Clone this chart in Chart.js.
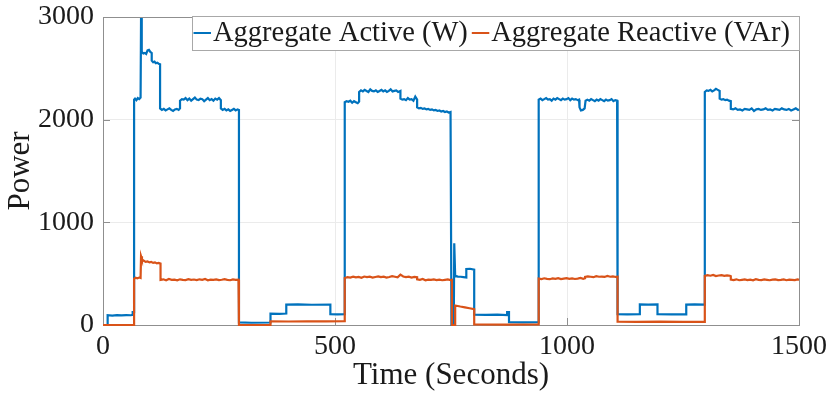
<!DOCTYPE html>
<html><head><meta charset="utf-8">
<script src="https://cdn.jsdelivr.net/npm/chart.js@4.4.0/dist/chart.umd.min.js"></script>
<style>html,body{margin:0;padding:0;background:#fff}#wrap{width:830px;height:394px}</style>
</head><body><div id="wrap"><canvas id="c" width="830" height="394"></canvas></div>
<script>
const seriesLabels = ['Aggregate Active (W)', 'Aggregate Reactive (VAr)'];
const xTicks = [0, 500, 1000, 1500];
const yTicks = [0, 1000, 2000, 3000];

const activeTime = [
 0, 10, 10, 20, 30, 40, 50, 60, 64, 64, 67,
 67, 69, 72, 75, 78, 81,
 82, 83, 84, 87, 90, 93, 96, 99, 102, 105,
 105, 108, 111, 114, 117, 120, 123,
 123, 127, 131, 135, 139, 143, 147, 151, 155, 159, 163, 166,
 166, 170, 174, 178, 182, 186, 190, 194, 198, 202, 206, 210, 214, 218, 222, 226, 230, 234, 238, 242, 246, 250, 254,
 254, 258, 262, 266, 270, 274, 278, 282, 286, 290, 293,
 293, 320, 361,
 361, 380, 395,
 395, 420, 450, 490,
 490, 505, 521,
 521, 525, 529, 533, 537, 541, 545, 549, 552,
 552, 556, 560, 564, 568, 572, 576, 580, 584, 588, 592, 596, 600, 604, 608, 612, 616, 620, 624, 628, 632, 636, 641,
 641, 645, 649, 653, 657, 661, 665, 669, 673, 677,
 677, 681, 685, 689, 693, 697, 701, 705, 709, 713, 717, 721, 725, 729, 733, 737, 741, 745, 749,
 751, 756, 757, 759, 765, 771, 777, 783,
 783, 791, 800,
 800, 825, 850, 871,
 871, 875,
 875, 905, 939,
 939, 943, 947, 951, 955, 959, 963, 967, 971, 975, 979, 983, 987, 991, 995, 999, 1003, 1007, 1011, 1015, 1019, 1023, 1026,
 1027, 1030, 1034, 1038,
 1040, 1044, 1048, 1052, 1056, 1060, 1064, 1068, 1072, 1076, 1080, 1084, 1088, 1092, 1096, 1100, 1104, 1108, 1109,
 1109, 1130, 1157,
 1157, 1175, 1195,
 1195, 1225, 1257,
 1257, 1275, 1297,
 1297, 1301, 1305, 1309, 1313, 1317, 1321, 1325, 1329,
 1329, 1333, 1337, 1341, 1345, 1349, 1353,
 1353, 1358, 1363, 1368, 1373, 1378, 1383, 1388, 1393, 1398, 1403, 1408, 1413, 1418, 1423, 1428, 1433, 1438, 1443, 1448, 1453, 1458, 1463, 1468, 1473, 1478, 1483, 1488, 1493, 1498, 1500
];
const activePower = [
 0, 0, 95, 92, 96, 94, 97, 95, 98, 125, 125,
 2195, 2205, 2190, 2210, 2200, 2215,
 2990, 2985, 2660, 2645, 2650, 2640, 2675, 2680, 2660, 2650,
 2575, 2560, 2565, 2550, 2555, 2545, 2540,
 2110, 2095, 2105, 2090, 2100, 2110, 2095, 2085, 2100, 2105, 2095, 2110,
 2185, 2200, 2195, 2210, 2190, 2205, 2185, 2200, 2215, 2195, 2190, 2205, 2200, 2180, 2195, 2210, 2190, 2200, 2185, 2205, 2195, 2210, 2190,
 2110, 2095, 2105, 2090, 2100, 2085, 2095, 2105, 2090, 2100, 2095,
 25, 22, 24,
 110, 108, 112,
 198, 200, 197, 199,
 105, 103, 106,
 2170, 2180, 2175, 2185, 2165, 2180, 2170, 2160, 2175,
 2270, 2285, 2275, 2290, 2280, 2270, 2295, 2280, 2275, 2285, 2270, 2280, 2290, 2275, 2285, 2270, 2280, 2295, 2275, 2280, 2285, 2270, 2280,
 2205, 2195, 2200, 2190, 2210, 2195, 2200, 2185, 2225, 2195,
 2120, 2110, 2115, 2105, 2110, 2100, 2105, 2095, 2100, 2090, 2095, 2085, 2090, 2080, 2085, 2075, 2080, 2070, 2075,
 0, 0, 795, 478, 472, 470, 466, 462,
 545, 548, 540,
 100, 98, 101, 97,
 125, 125,
 28, 26, 28,
 2195, 2205, 2190, 2200, 2210, 2195, 2200, 2185, 2205, 2195, 2210, 2200, 2190, 2205, 2195, 2200, 2210, 2190, 2205, 2195, 2200, 2190, 2195,
 2120, 2090, 2095, 2110,
 2185, 2195, 2185, 2200, 2190, 2180, 2195, 2185, 2200, 2190, 2180, 2195, 2185, 2190, 2200, 2180, 2190, 2185, 2190,
 105, 103, 106,
 200, 198, 201,
 105, 103, 104,
 198, 200, 199,
 2270, 2285, 2280, 2290, 2275, 2285, 2300, 2290, 2280,
 2205, 2195, 2200, 2190, 2195, 2185, 2180,
 2105, 2100, 2110, 2095, 2100, 2090, 2105, 2100, 2095, 2110, 2085, 2100, 2105, 2095, 2100, 2110, 2095, 2100, 2090, 2105, 2100, 2095, 2110, 2100, 2095, 2105, 2090, 2100, 2110, 2095, 2100
];

const reactiveTime = [
 0, 67,
 67, 70, 74, 78, 81,
 82, 84, 88, 92, 96, 100, 104, 108, 112, 116, 120, 124,
 124, 130, 136, 142, 148, 154, 160, 166, 172, 178, 184, 190, 196, 202, 208, 214, 220, 226, 232, 238, 244, 250, 256, 262, 268, 274, 280, 286, 292, 293,
 293, 361,
 361, 400, 440, 480, 521,
 521, 527, 533, 539, 545, 551, 557, 563, 569, 575, 581, 587, 593, 599, 605, 611, 617, 623, 629, 635, 641, 647, 653, 659, 665, 671, 677,
 677, 683, 689, 695, 701, 707, 713, 719, 725, 731, 737, 743, 749, 752,
 752, 759,
 759, 770, 780, 790, 800,
 800, 870, 939,
 939, 945, 951, 957, 963, 969, 975, 981, 987, 993, 999, 1005, 1011, 1017, 1023, 1029, 1035, 1039,
 1039, 1045, 1051, 1057, 1063, 1069, 1075, 1081, 1087, 1093, 1099, 1105, 1109,
 1109, 1150, 1200, 1250, 1297,
 1297, 1303, 1309, 1315, 1321, 1327, 1333, 1339, 1345, 1351, 1353,
 1353, 1359, 1365, 1371, 1377, 1383, 1389, 1395, 1401, 1407, 1413, 1419, 1425, 1431, 1437, 1443, 1449, 1455, 1461, 1467, 1473, 1479, 1485, 1491, 1497, 1500
];
const reactivePower = [
 0, 0,
 450, 460, 455, 462, 458,
 670, 640, 625, 615, 620, 610, 615, 605, 610, 600, 605, 598,
 440, 445, 435, 448, 440, 442, 436, 445, 440, 438, 446, 440, 443, 437, 445, 440, 448, 436, 442, 440, 445, 438, 441, 447, 440, 436, 444, 440, 442, 440,
 0, 0,
 35, 34, 36, 35, 37,
 458, 466, 462, 470, 464, 468, 460, 472, 466, 470, 462, 468, 474, 466, 470, 462, 468, 476, 470, 464, 490, 472, 466, 470, 462, 468, 466,
 445, 440, 448, 436, 442, 440, 445, 438, 442, 436, 440, 444, 438, 440,
 0, 0,
 190, 180, 172, 163, 155,
 5, 4, 5,
 452, 448, 455, 450, 446, 454, 450, 457, 448, 452, 456, 450, 454, 448, 452, 458, 450, 455,
 468, 474, 470, 466, 476, 470, 472, 468, 478, 470, 474, 468, 470,
 32, 30, 33, 31, 30,
 478, 485, 480, 488, 476, 482, 486, 478, 484, 480, 476,
 442, 438, 445, 436, 440, 444, 438, 442, 436, 446, 440, 438, 444, 440, 436, 442, 445, 438, 440, 444, 436, 442, 440, 438, 444, 440
];

function toPoints(ts, vs) {
  const n = Math.min(ts.length, vs.length);
  const out = [];
  for (let i = 0; i < n; i++) out.push({x: ts[i], y: vs[i]});
  return out;
}

const FONT = 'Liberation Serif';
const AXIS_COLOR = '#8f8f8f';
const TEXT_COLOR = '#1a1a1a';

const framePlugin = {
  id: 'framePlugin',
  beforeDatasetsDraw(chart) {
    const {ctx, chartArea: a, scales: {x, y}} = chart;
    ctx.save();
    ctx.strokeStyle = AXIS_COLOR;
    ctx.lineWidth = 1;
    ctx.beginPath();
    xTicks.forEach(v => {
      const px = Math.round(x.getPixelForValue(v)) + 0.5;
      ctx.moveTo(px, a.bottom); ctx.lineTo(px, a.bottom - 7);
      ctx.moveTo(px, a.top); ctx.lineTo(px, a.top + 7);
    });
    yTicks.forEach(v => {
      const py = Math.round(y.getPixelForValue(v)) + 0.5;
      ctx.moveTo(a.left, py); ctx.lineTo(a.left + 7, py);
      ctx.moveTo(a.right, py); ctx.lineTo(a.right - 7, py);
    });
    ctx.stroke();
    ctx.strokeRect(Math.round(a.left) + 0.5, Math.round(a.top) + 0.5,
                   Math.round(a.right - a.left), Math.round(a.bottom - a.top));
    ctx.restore();
  }
};

const legendPlugin = {
  id: 'legendPlugin',
  afterDatasetsDraw(chart) {
    const {ctx, chartArea: a} = chart;
    ctx.save();
    ctx.font = '28.5px "' + FONT + '"';
    const x0 = 192.5, y0 = 16.5, x1 = Math.round(a.right) + 0.5, y1 = 50.5;
    ctx.fillStyle = '#ffffff';
    ctx.fillRect(x0, y0, x1 - x0, y1 - y0);
    ctx.strokeStyle = '#a8a8a8';
    ctx.lineWidth = 1;
    ctx.strokeRect(x0, y0, x1 - x0, y1 - y0);
    let cx = 193.5;
    const cy = 33;
    chart.data.datasets.forEach(ds => {
      ctx.strokeStyle = ds.borderColor;
      ctx.lineWidth = 2;
      ctx.beginPath(); ctx.moveTo(cx, cy); ctx.lineTo(cx + 17.5, cy); ctx.stroke();
      cx += 19.5;
      ctx.fillStyle = TEXT_COLOR;
      ctx.textBaseline = 'middle';
      ctx.textAlign = 'left';
      ctx.fillText(ds.label, cx, cy + 1);
      cx += ctx.measureText(ds.label).width + 4;
    });
    ctx.restore();
  }
};

function zeroPad(s) {
  s.paddingTop = 0; s.paddingBottom = 0; s.paddingLeft = 0; s.paddingRight = 0;
}

new Chart(document.getElementById('c'), {
  type: 'line',
  data: {
    datasets: [
      {label: seriesLabels[0], data: toPoints(activeTime, activePower), borderColor: '#0072BD',
       borderWidth: 2.2, pointRadius: 0, tension: 0, fill: false, order: 1, clip: 3},
      {label: seriesLabels[1], data: toPoints(reactiveTime, reactivePower), borderColor: '#D95319',
       borderWidth: 2.2, pointRadius: 0, tension: 0, fill: false, order: 0, clip: 3}
    ]
  },
  options: {
    responsive: false,
    animation: false,
    devicePixelRatio: 1,
    layout: {autoPadding: false, padding: {top: 17, right: 31, left: 0, bottom: 0}},
    plugins: {legend: {display: false}, tooltip: {enabled: false}},
    scales: {
      x: {
        type: 'linear', min: 0, max: 1500,
        afterBuildTicks: s => { s.ticks = xTicks.map(v => ({value: v})); },
        afterFit: s => { s.height = 69; zeroPad(s); },
        grid: {color: '#ebebeb', lineWidth: 1, drawTicks: false},
        border: {display: false},
        ticks: {color: TEXT_COLOR, font: {family: FONT, size: 28}, padding: 5, maxRotation: 0,
                callback: v => String(v)},
        title: {display: true, text: 'Time (Seconds)', color: TEXT_COLOR,
                font: {family: FONT, size: 31}, padding: {top: 0, bottom: 0}}
      },
      y: {
        type: 'linear', min: 0, max: 3000,
        afterBuildTicks: s => { s.ticks = yTicks.map(v => ({value: v})); },
        afterFit: s => { s.width = 103; zeroPad(s); },
        grid: {color: '#ebebeb', lineWidth: 1, drawTicks: false},
        border: {display: false},
        ticks: {color: TEXT_COLOR, font: {family: FONT, size: 28}, padding: 9,
                callback: v => String(v)},
        title: {display: true, text: 'Power', color: TEXT_COLOR,
                font: {family: FONT, size: 31}, padding: {top: 2, bottom: 0}}
      }
    }
  },
  plugins: [framePlugin, legendPlugin]
});
</script>
</body></html>
